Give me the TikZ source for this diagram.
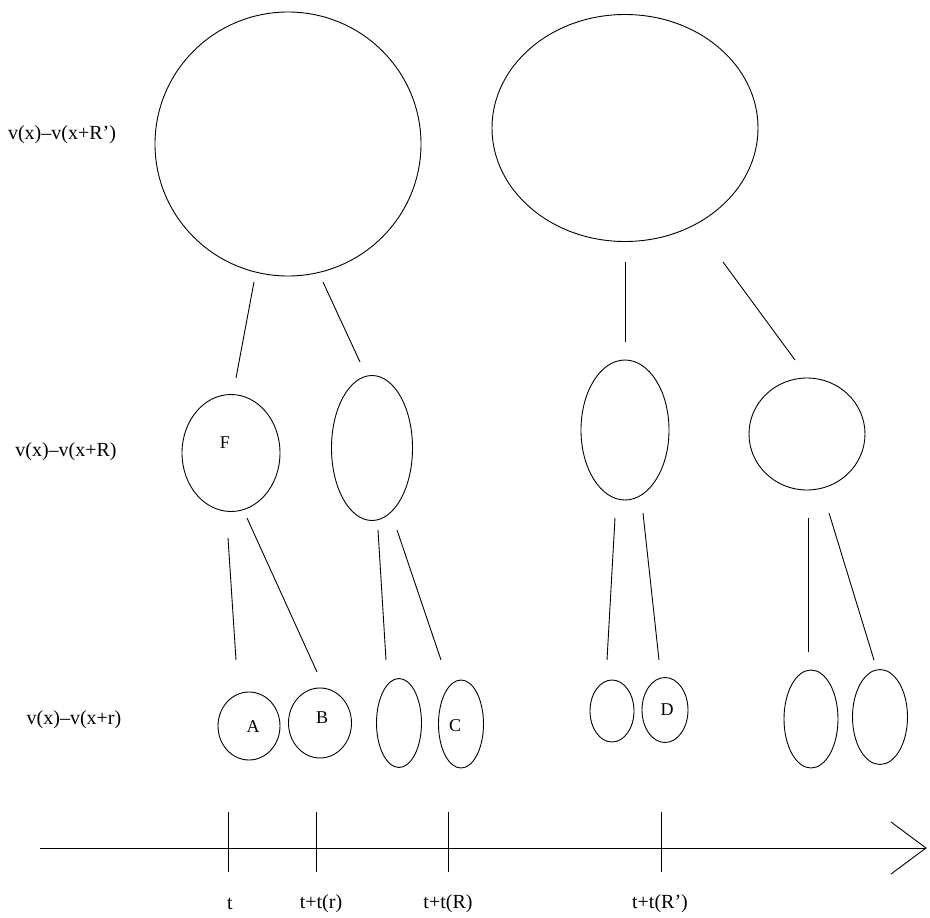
\documentclass[tikz,border=0pt]{standalone}
\usepackage{fontspec}
\setmainfont{Liberation Serif}
\usetikzlibrary{shapes.geometric}
\begin{document}
\begin{tikzpicture}[x=1pt,y=-1pt,
  ell/.style={draw,ellipse,line width=0.9pt,inner sep=0pt},
  conn/.style={line width=0.9pt},
  lbl/.style={font=\fontsize{20}{24}\selectfont,inner sep=0pt},
  let/.style={font=\fontsize{18}{22}\selectfont,inner sep=0pt}]
\useasboundingbox (0,0) rectangle (930,918);
% top level
\node[ell,minimum width=266pt,minimum height=264pt] (T1) at (288,144) {};
\node[ell,minimum width=266pt,minimum height=227pt] (T2) at (625,128) {};
% middle level
\node[ell,minimum width=98pt,minimum height=117pt] (M1) at (231,453) {};
\node[ell,minimum width=81pt,minimum height=145pt] (M2) at (372,448) {};
\node[ell,minimum width=88pt,minimum height=140pt] (M3) at (625,430) {};
\node[ell,minimum width=116pt,minimum height=112pt] (M4) at (807,434) {};
% bottom level
\node[ell,minimum width=62pt,minimum height=68pt] (S1) at (249,726) {};
\node[ell,minimum width=63pt,minimum height=70pt] (S2) at (320,723) {};
\node[ell,minimum width=45pt,minimum height=89pt] (S3) at (399,723) {};
\node[ell,minimum width=45pt,minimum height=88pt] (S4) at (461,724) {};
\node[ell,minimum width=44pt,minimum height=62pt] (S5) at (612,711) {};
\node[ell,minimum width=46pt,minimum height=65pt] (S6) at (665,710) {};
\node[ell,minimum width=54pt,minimum height=98pt] (S7) at (811,719) {};
\node[ell,minimum width=55pt,minimum height=95pt] (S8) at (880,717) {};
% letters
\node[let] (lF) at (225,443) {F};
\node[let] (lA) at (253,727) {A};
\node[let] (lB) at (322,718) {B};
\node[let] (lC) at (455,726) {C};
\node[let] (lD) at (667,710) {D};
% connector ends
\coordinate (a1) at (254,282); \coordinate (a2) at (236,378);
\coordinate (b1) at (323,282); \coordinate (b2) at (360,362);
\coordinate (c1) at (625,262); \coordinate (c2) at (625,342);
\coordinate (d1) at (723,262); \coordinate (d2) at (795,360);
\coordinate (e1) at (228,538); \coordinate (e2) at (236,660);
\coordinate (f1) at (247,518); \coordinate (f2) at (317,672);
\coordinate (g1) at (378,530); \coordinate (g2) at (386,660);
\coordinate (h1) at (397,530); \coordinate (h2) at (441,660);
\coordinate (i1) at (615,518); \coordinate (i2) at (607,660);
\coordinate (j1) at (643,513); \coordinate (j2) at (659,660);
\coordinate (k1) at (808,518); \coordinate (k2) at (808,652);
\coordinate (l1) at (829,513); \coordinate (l2) at (874,660);
\foreach \p in {a,b,c,d,e,f,g,h,i,j,k,l} \draw[conn] (\p1) -- (\p2);
% axis
\coordinate (ax0) at (40,848);
\coordinate (ax1) at (926,848);
\coordinate (ar1) at (891,822);
\coordinate (ar2) at (891,874);
\draw[conn] (ax0) -- (ax1);
\draw[conn] (ar1) -- (ax1) -- (ar2);
\foreach \x/\n in {228/t0,316/t1,448/t2,661/t3} {
  \coordinate (\n a) at (\x,812); \coordinate (\n b) at (\x,872);
  \draw[conn] (\n a) -- (\n b);
}
\node[lbl] (xt0) at (230,904) {t};
\node[lbl] (xt1) at (321,904) {t+t(r)};
\node[lbl] (xt2) at (448,904) {t+t(R)};
\node[lbl] (xt3) at (660,904) {t+t(R')};
% level labels
\node[lbl] (L1) at (62,135) {v(x)--v(x+R')};
\node[lbl] (L2) at (66,452) {v(x)--v(x+R)};
\node[lbl] (L3) at (74,720) {v(x)--v(x+r)};
\end{tikzpicture}
\end{document}
